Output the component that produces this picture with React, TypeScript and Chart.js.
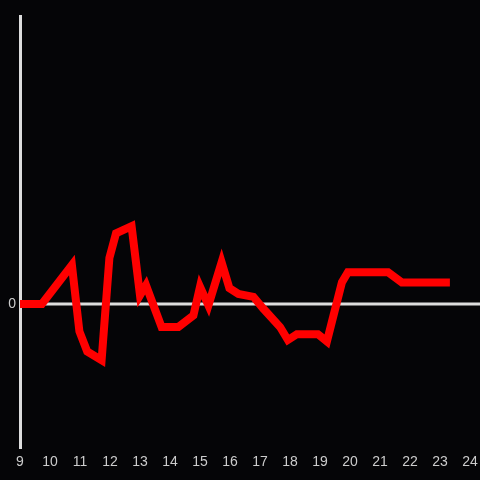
import React, { useEffect, useRef } from "react";
import { Chart, registerables } from "chart.js";

Chart.register(...registerables);

const hours = [9, 9.73, 10.73, 10.98, 11.24, 11.72, 11.98, 12.2, 12.72, 13.0, 13.2, 13.72, 14.28, 14.78, 15.0, 15.28, 15.72, 15.98, 16.28, 16.78, 17.1, 17.67, 17.93, 18.23, 18.93, 19.23, 19.73, 19.93, 21.27, 21.73, 23.33];
const values = [0, 0, 0.27, -0.19, -0.33, -0.39, 0.32, 0.49, 0.54, 0.06, 0.13, -0.16, -0.16, -0.08, 0.12, -0.01, 0.29, 0.11, 0.07, 0.05, -0.03, -0.16, -0.25, -0.21, -0.21, -0.26, 0.15, 0.22, 0.22, 0.15, 0.15];
const xTicks = [9, 10, 11, 12, 13, 14, 15, 16, 17, 18, 19, 20, 21, 22, 23, 24];

const zeroLine = {
  id: "zeroLine",
  beforeDatasetsDraw(chart: any) {
    const { ctx, chartArea, scales } = chart;
    const y = scales.y.getPixelForValue(0);
    ctx.save();
    ctx.strokeStyle = "#dddddd";
    ctx.lineWidth = 3;
    ctx.beginPath();
    ctx.moveTo(chartArea.left, y);
    ctx.lineTo(chart.width, y);
    ctx.stroke();
    ctx.restore();
  },
};

export default function App() {
  const ref = useRef<HTMLCanvasElement>(null);
  useEffect(() => {
    document.body.style.margin = "0";
    document.body.style.background = "#050507";
    const chart = new Chart(ref.current!, {
      type: "line",
      data: {
        datasets: [
          {
            data: hours.map((h, i) => ({ x: h, y: values[i] })),
            borderColor: "#ff0000",
            borderWidth: 8,
            pointRadius: 0,
            tension: 0,
            fill: false,
          },
        ],
      },
      options: {
        animation: false,
        responsive: false,
        maintainAspectRatio: false,
        layout: { padding: { top: 16, right: 0, left: 0, bottom: 0 } },
        plugins: { legend: { display: false }, tooltip: { enabled: false } },
        scales: {
          x: {
            type: "linear",
            min: 9,
            max: 24,
            afterBuildTicks: (scale: any) => {
              scale.ticks = xTicks.map((v) => ({ value: v }));
            },
            afterFit: (scale: any) => {
              scale.height = 32;
              scale.paddingRight = 10;
              scale.paddingLeft = 0;
            },
            grid: { display: false, drawTicks: false },
            border: { display: false },
            ticks: {
              color: "#cccccc",
              padding: 6,
              maxRotation: 0,
              autoSkip: false,
              font: { family: "Liberation Sans, Arial, sans-serif", size: 14 },
            },
          },
          y: {
            min: -1,
            max: 2,
            afterBuildTicks: (scale: any) => {
              scale.ticks = [{ value: 0 }];
            },
            afterFit: (scale: any) => {
              scale.width = 20;
            },
            grid: { display: false, drawTicks: false },
            border: { display: true, color: "#dddddd", width: 3 },
            ticks: {
              color: "#cccccc",
              padding: 4,
              font: { family: "Liberation Sans, Arial, sans-serif", size: 14 },
            },
          },
        },
      },
      plugins: [zeroLine],
    });
    return () => chart.destroy();
  }, []);
  return (
    <div style={{ width: 480, height: 480, background: "#050507" }}>
      <canvas ref={ref} width={480} height={480} />
    </div>
  );
}
